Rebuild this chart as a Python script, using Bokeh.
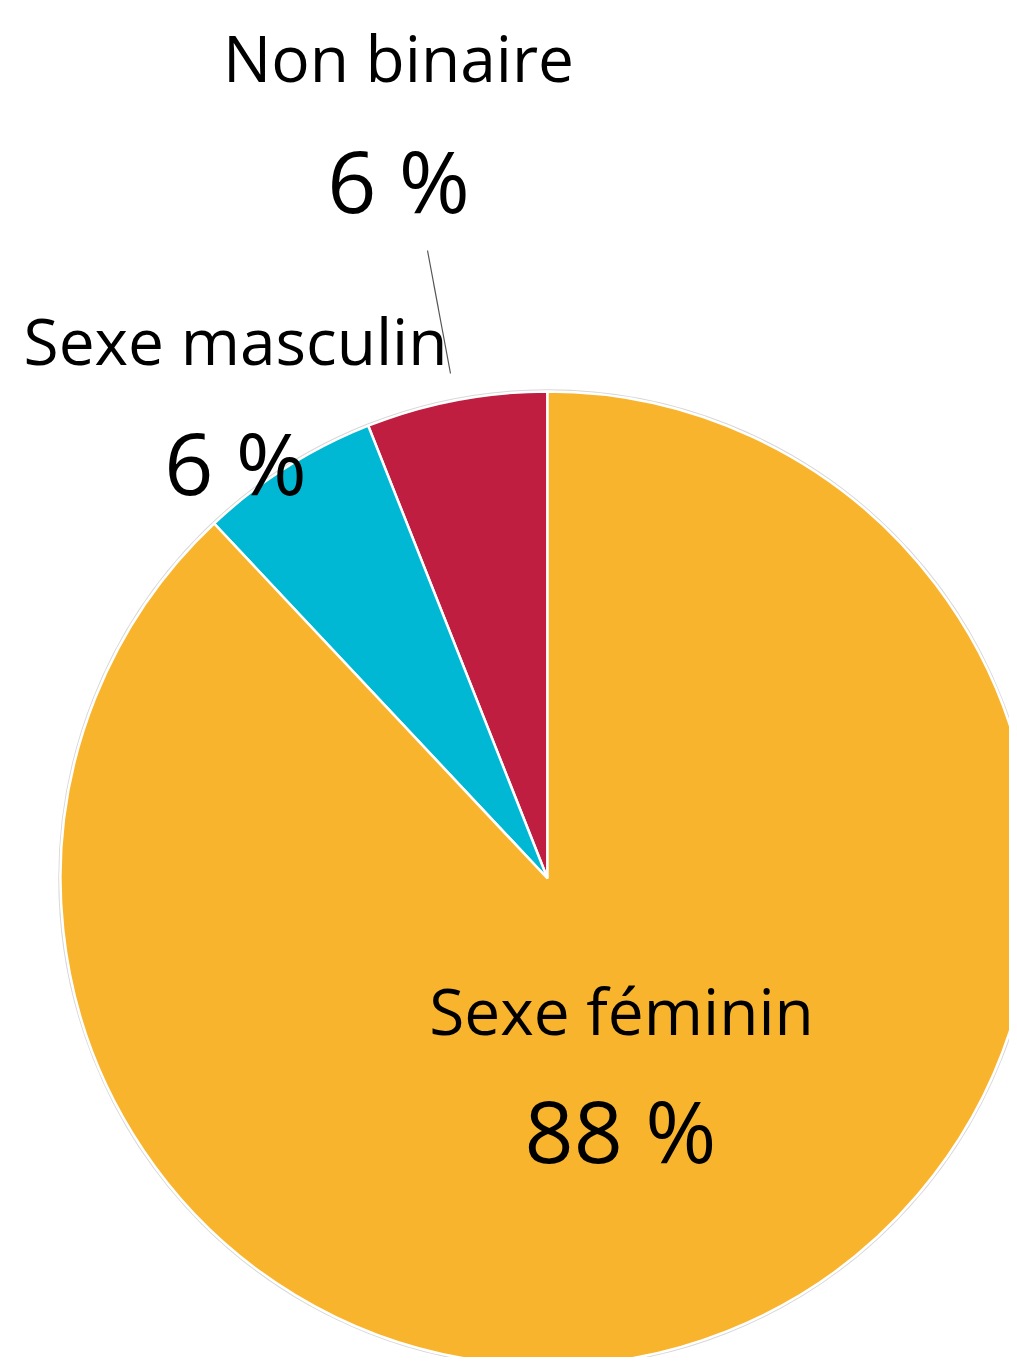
import math
from bokeh.plotting import figure
from bokeh.models import Range1d, ColumnDataSource
from bokeh.core.properties import value
from bokeh.embed import file_html
from bokeh.resources import INLINE

# ---- data ----
categories = ["Non binaire", "Sexe masculin", "Sexe féminin"]
percents = [6, 6, 88]
pct_labels = ["6 %", "6 %", "88 %"]
colors = ["#BF1E40", "#00B8D4", "#F9B42E"]

# ---- layout (page pixel coordinates, y up = -page_y) ----
W, H = 1009, 1357
cx, cy, R = 547, -878, 487

total = sum(percents)
starts, ends = [], []
a = math.pi / 2
for v in percents:
    starts.append(a)
    a += v / total * 2 * math.pi
    ends.append(a)

src = ColumnDataSource(dict(cat=categories, start=starts, end=ends, color=colors))

p = figure(width=W, height=H, output_backend="svg", toolbar_location=None,
           x_range=Range1d(0, W), y_range=Range1d(-H, 0),
           min_border=0, outline_line_color=None)
p.axis.visible = False
p.grid.visible = False
p.background_fill_color = "white"
p.border_fill_color = "white"

p.circle(x=[cx], y=[cy], radius=R + 1.5, fill_color=None,
         line_color="#D8D8D8", line_width=1.5)
p.wedge(x=cx, y=cy, radius=R, start_angle="start", end_angle="end",
        direction="anticlock", fill_color="color", line_color="white",
        line_width=2.5, source=src)

# leader line for "Non binaire"
p.segment(x0=[427], y0=[-250], x1=[450], y1=[-373], line_color="#555555", line_width=1.2)

font = value("Open Sans")
name_x = [398, 235, 621]
name_y = [-57, -340, -1010]
pct_x = [398, 235, 620]
pct_y = [-179, -461, -1129]

p.text(x=name_x, y=name_y, text=categories, text_font=font, text_font_size="64px",
       text_align="center", text_baseline="alphabetic", text_color="black")
p.text(x=pct_x, y=pct_y, text=pct_labels, text_font=font, text_font_size="86px",
       text_align="center", text_baseline="alphabetic", text_color="black")

open("out.html", "w").write(file_html(p, INLINE))
